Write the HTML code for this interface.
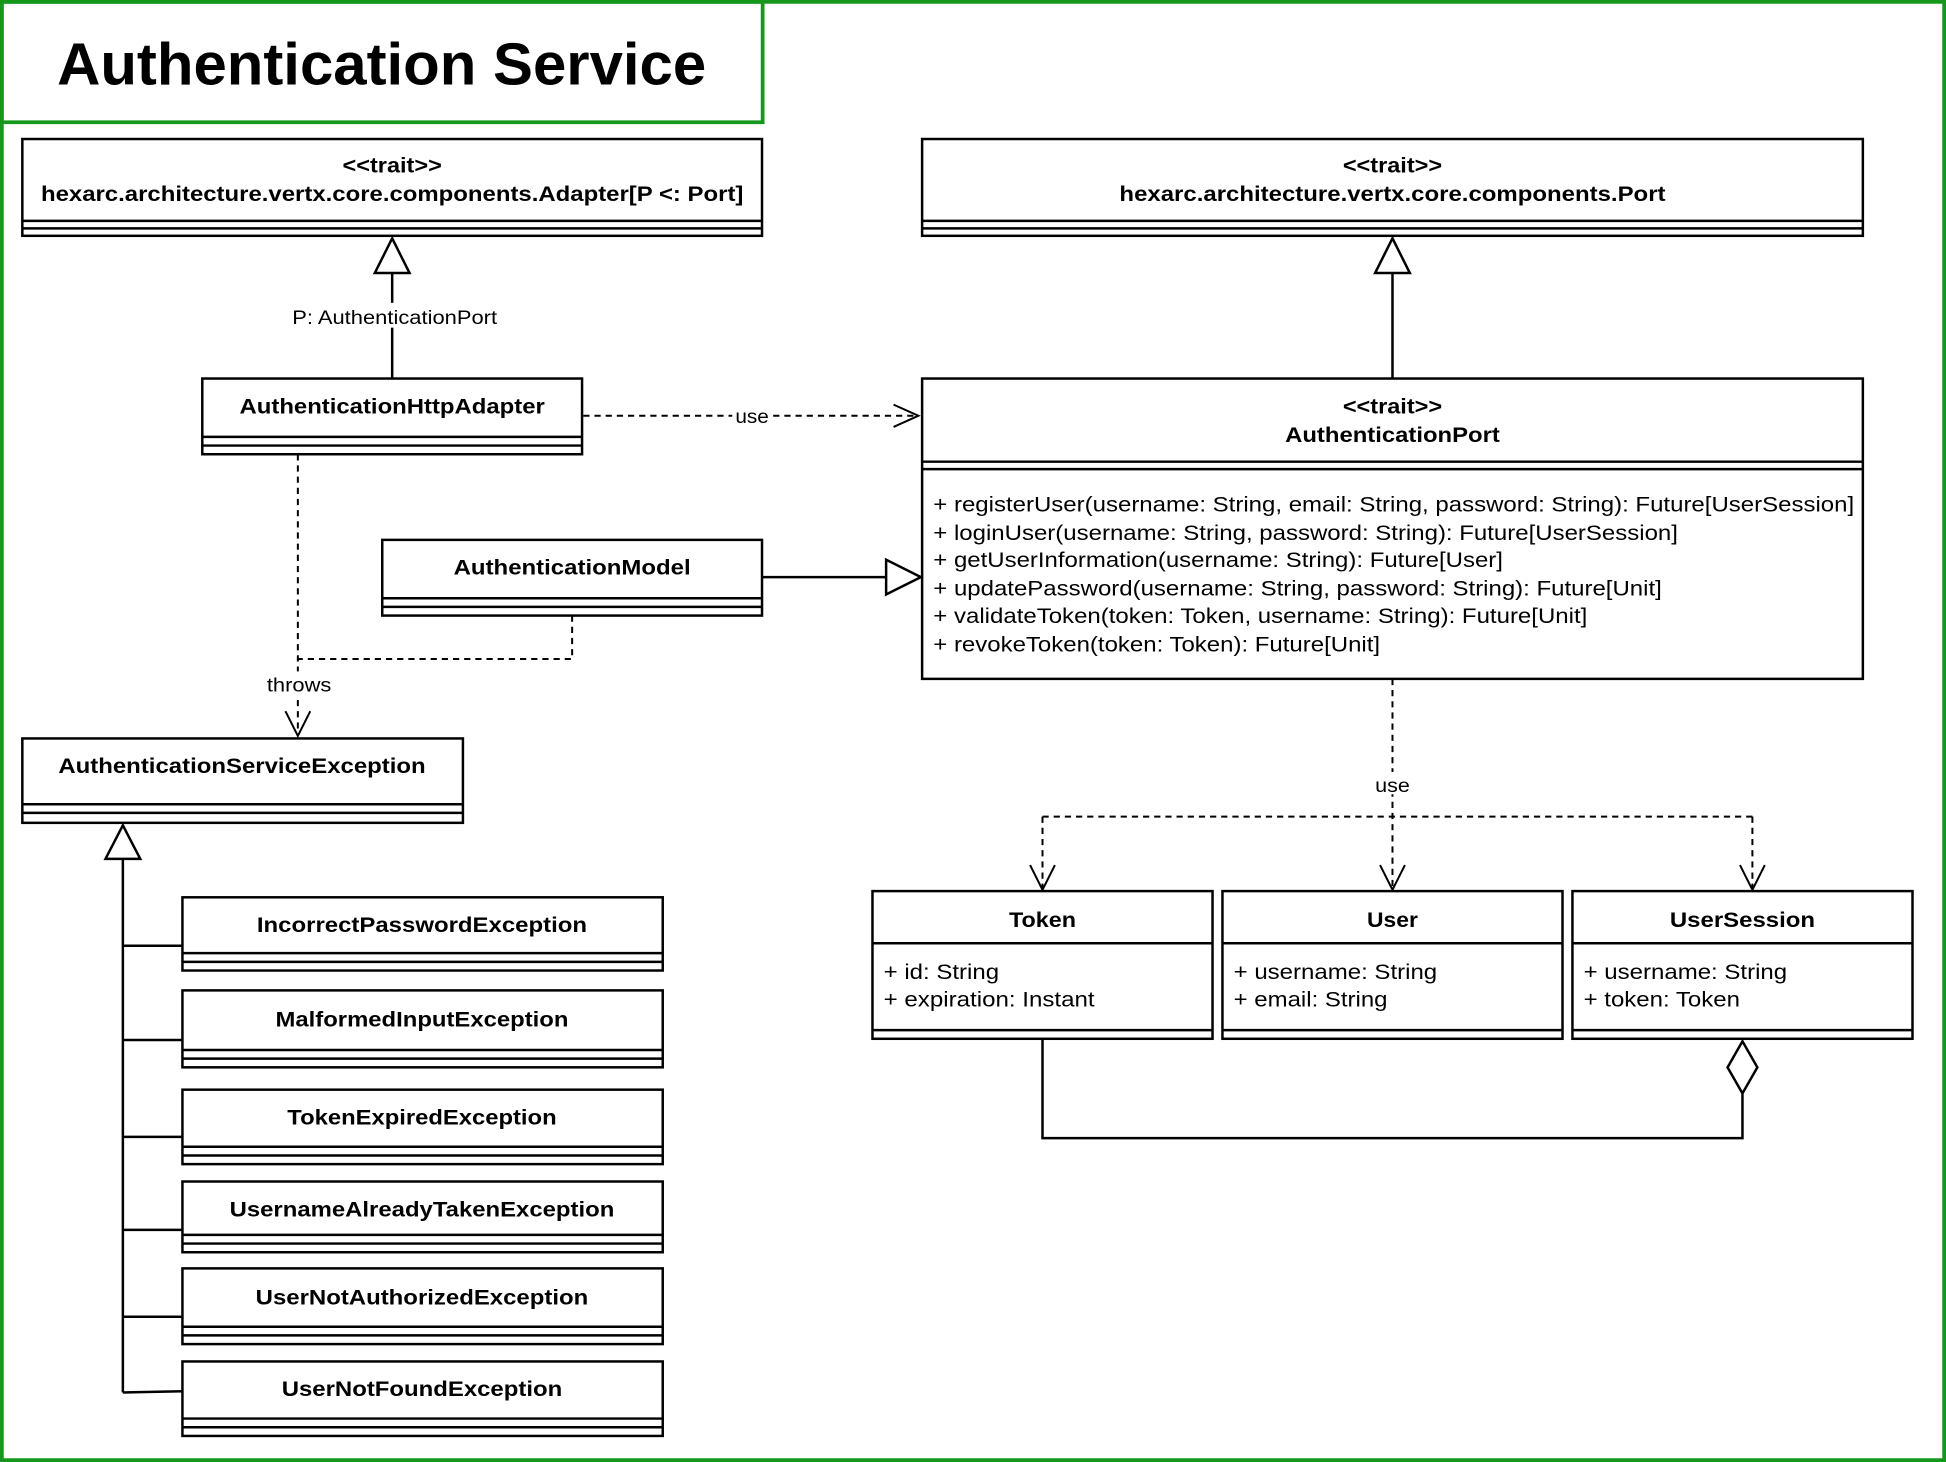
<!DOCTYPE html>
<html><head><meta charset="utf-8"><style>
html,body{margin:0;padding:0;background:#fff;}
svg{display:block;}
text{font-family:"Liberation Sans",Arial,sans-serif;fill:#000;}
.b{font-weight:bold;font-size:17.5px;text-anchor:middle;}
.m{font-size:17.5px;}
.l{font-size:16px;text-anchor:middle;}
</style></head><body>
<svg width="1946" height="1462" viewBox="0 0 1568 1178" xmlns="http://www.w3.org/2000/svg">
<rect x="0" y="0" width="1568" height="1178" fill="#fff"/>
<rect x="1.5" y="1.5" width="1565" height="1175" fill="none" stroke="#14971a" stroke-width="3"/>
<rect x="1.5" y="1.5" width="613" height="97" fill="none" stroke="#14971a" stroke-width="3"/>
<text x="46" y="68" style="font-weight:bold;font-size:48px;" textLength="523" lengthAdjust="spacingAndGlyphs">Authentication Service</text>

<g fill="#fff" stroke="#000" stroke-width="2">
<rect x="18" y="112" width="596" height="78"/>
<rect x="743" y="112" width="758" height="78"/>
<rect x="163" y="305" width="306" height="61"/>
<rect x="743" y="305" width="758" height="242"/>
<rect x="308" y="435" width="306" height="61"/>
<rect x="18" y="595" width="355" height="68"/>
<rect x="147" y="723" width="387" height="59"/>
<rect x="147" y="798" width="387" height="62"/>
<rect x="147" y="878" width="387" height="60"/>
<rect x="147" y="952" width="387" height="57"/>
<rect x="147" y="1022" width="387" height="61"/>
<rect x="147" y="1097" width="387" height="60"/>
<rect x="703" y="718" width="274" height="119"/>
<rect x="985" y="718" width="274" height="119"/>
<rect x="1267" y="718" width="274" height="119"/>
</g>
<g stroke="#000" stroke-width="2" fill="none">
<path d="M18 178H614M18 184H614M743 178H1501M743 184H1501"/>
<path d="M163 352H469M163 359H469M743 372H1501M743 378H1501M308 482H614M308 489H614"/>
<path d="M18 648H373M18 655H373"/>
<path d="M147 768H534M147 775H534M147 846H534M147 853H534M147 924H534M147 931H534M147 995H534M147 1002H534M147 1069H534M147 1076H534M147 1143H534M147 1150H534"/>
<path d="M703 760H977M703 830H977M985 760H1259M985 830H1259M1267 760H1541M1267 830H1541"/>
<path d="M316 220V305M1122 220V305"/>
<path d="M99 692V1122M99 762H147M99 838H147M99 916H147M99 991H147M99 1061H147M99 1122L147 1121"/>
<path d="M614 465H714"/>
<path d="M840 838V917H1404V880"/>
<g stroke-dasharray="5,4" stroke-width="1.6">
<path d="M470 335H738"/>
<path d="M240 366V592M461 496V531H240"/>
<path d="M1122 547V717M840 658H1412M840 658V717M1412 658V717"/>
</g>
<g stroke-width="1.6">
<path d="M720 326L740 335L720 344"/>
<path d="M230 573L240 593L250 573"/>
<path d="M830 697L840 717L850 697M1112 697L1122 717L1132 697M1402 697L1412 717L1422 697"/>
</g>
</g>
<g fill="#fff" stroke="#000" stroke-width="2">
<path d="M316 192L302 220H330Z"/>
<path d="M1122 192L1108 220H1136Z"/>
<path d="M99 665L85 692H113Z"/>
<path d="M714 451L742 465L714 479Z"/>
<path d="M1404 839L1392 860L1404 881L1416 860Z"/>
</g>
<rect x="232" y="244" width="172" height="20" fill="#fff"/>
<text class="l" x="318" y="261" textLength="165" lengthAdjust="spacingAndGlyphs">P: AuthenticationPort</text>
<rect x="590" y="326" width="32" height="18" fill="#fff"/>
<text class="l" x="606" y="341" textLength="27" lengthAdjust="spacingAndGlyphs">use</text>
<rect x="210" y="541" width="60" height="20" fill="#fff"/>
<text class="l" x="241" y="557" textLength="52" lengthAdjust="spacingAndGlyphs">throws</text>
<rect x="1104" y="622" width="36" height="18" fill="#fff"/>
<text class="l" x="1122" y="638" textLength="28" lengthAdjust="spacingAndGlyphs">use</text>

<text class="b" x="316" y="139" textLength="80" lengthAdjust="spacingAndGlyphs">&lt;&lt;trait&gt;&gt;</text>
<text class="b" x="316" y="162" textLength="566" lengthAdjust="spacingAndGlyphs">hexarc.architecture.vertx.core.components.Adapter[P &lt;: Port]</text>
<text class="b" x="1122" y="139" textLength="80" lengthAdjust="spacingAndGlyphs">&lt;&lt;trait&gt;&gt;</text>
<text class="b" x="1122" y="162" textLength="440" lengthAdjust="spacingAndGlyphs">hexarc.architecture.vertx.core.components.Port</text>
<text class="b" x="316" y="333" textLength="246" lengthAdjust="spacingAndGlyphs">AuthenticationHttpAdapter</text>
<text class="b" x="1122" y="333" textLength="80" lengthAdjust="spacingAndGlyphs">&lt;&lt;trait&gt;&gt;</text>
<text class="b" x="1122" y="356" textLength="173" lengthAdjust="spacingAndGlyphs">AuthenticationPort</text>
<g class="m">
<text x="752" y="412" textLength="742" lengthAdjust="spacingAndGlyphs">+ registerUser(username: String, email: String, password: String): Future[UserSession]</text>
<text x="752" y="435" textLength="600" lengthAdjust="spacingAndGlyphs">+ loginUser(username: String, password: String): Future[UserSession]</text>
<text x="752" y="457" textLength="459" lengthAdjust="spacingAndGlyphs">+ getUserInformation(username: String): Future[User]</text>
<text x="752" y="480" textLength="587" lengthAdjust="spacingAndGlyphs">+ updatePassword(username: String, password: String): Future[Unit]</text>
<text x="752" y="502" textLength="527" lengthAdjust="spacingAndGlyphs">+ validateToken(token: Token, username: String): Future[Unit]</text>
<text x="752" y="525" textLength="360" lengthAdjust="spacingAndGlyphs">+ revokeToken(token: Token): Future[Unit]</text>
</g>
<text class="b" x="461" y="463" textLength="191" lengthAdjust="spacingAndGlyphs">AuthenticationModel</text>
<text class="b" x="195" y="623" textLength="296" lengthAdjust="spacingAndGlyphs">AuthenticationServiceException</text>
<text class="b" x="340" y="751" textLength="266" lengthAdjust="spacingAndGlyphs">IncorrectPasswordException</text>
<text class="b" x="340" y="827" textLength="236" lengthAdjust="spacingAndGlyphs">MalformedInputException</text>
<text class="b" x="340" y="906" textLength="217" lengthAdjust="spacingAndGlyphs">TokenExpiredException</text>
<text class="b" x="340" y="980" textLength="310" lengthAdjust="spacingAndGlyphs">UsernameAlreadyTakenException</text>
<text class="b" x="340" y="1051" textLength="268" lengthAdjust="spacingAndGlyphs">UserNotAuthorizedException</text>
<text class="b" x="340" y="1125" textLength="226" lengthAdjust="spacingAndGlyphs">UserNotFoundException</text>
<text class="b" x="840" y="747" textLength="54" lengthAdjust="spacingAndGlyphs">Token</text>
<text class="b" x="1122" y="747" textLength="41" lengthAdjust="spacingAndGlyphs">User</text>
<text class="b" x="1404" y="747" textLength="117" lengthAdjust="spacingAndGlyphs">UserSession</text>
<g class="m">
<text x="712" y="789" textLength="93" lengthAdjust="spacingAndGlyphs">+ id: String</text>
<text x="712" y="811" textLength="170" lengthAdjust="spacingAndGlyphs">+ expiration: Instant</text>
<text x="994" y="789" textLength="164" lengthAdjust="spacingAndGlyphs">+ username: String</text>
<text x="994" y="811" textLength="124" lengthAdjust="spacingAndGlyphs">+ email: String</text>
<text x="1276" y="789" textLength="164" lengthAdjust="spacingAndGlyphs">+ username: String</text>
<text x="1276" y="811" textLength="126" lengthAdjust="spacingAndGlyphs">+ token: Token</text>
</g>
</svg>
</body></html>
